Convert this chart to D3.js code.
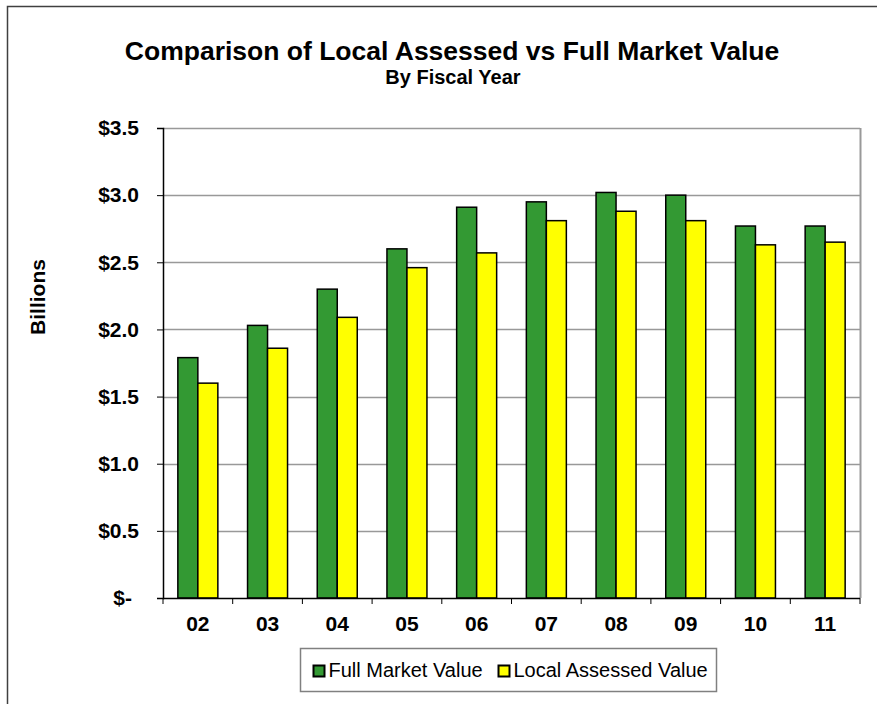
<!DOCTYPE html>
<html>
<head>
<meta charset="utf-8">
<script src="https://cdn.jsdelivr.net/npm/d3@7"></script>
<style>
  body { margin: 0; background: #fff; }
  text { font-family: "Liberation Sans", Arial, sans-serif; }
</style>
</head>
<body>
<svg id="viz" width="877" height="704"></svg>
<script>
const years = ["02", "03", "04", "05", "06", "07", "08", "09", "10", "11"];
const fullMarket = [1.79, 2.03, 2.30, 2.60, 2.91, 2.95, 3.02, 3.00, 2.77, 2.77];
const localAssessed = [1.60, 1.86, 2.09, 2.46, 2.57, 2.81, 2.88, 2.81, 2.63, 2.65];
const yTicks = [0, 0.5, 1.0, 1.5, 2.0, 2.5, 3.0, 3.5];
const seriesNames = ["Full Market Value", "Local Assessed Value"];
const colors = ["#339933", "#ffff00"];

const margin = { top: 128, right: 17, bottom: 106, left: 163 };
const svg = d3.select("#viz");
const width = +svg.attr("width");
const height = +svg.attr("height");

// outer chart frame (only top and left edges show in the picture)
svg.append("path")
    .attr("d", `M7.5,${height} V6.5 H${width}`)
    .attr("fill", "none")
    .attr("stroke", "#404040")
    .attr("stroke-width", 1.5);

const x = d3.scaleBand()
    .domain(years)
    .range([margin.left, width - margin.right]);

const y = d3.scaleLinear()
    .domain([0, 3.5])
    .range([height - margin.bottom, margin.top]);

// gridlines
svg.append("g")
    .selectAll("line")
    .data(yTicks.slice(1))
    .join("line")
    .attr("x1", margin.left)
    .attr("x2", width - margin.right)
    .attr("y1", d => Math.round(y(d)) + 0.5)
    .attr("y2", d => Math.round(y(d)) + 0.5)
    .attr("stroke", "#999")
    .attr("stroke-width", 1.5);

// plot area right edge
svg.append("line")
    .attr("x1", width - margin.right + 0.5)
    .attr("x2", width - margin.right + 0.5)
    .attr("y1", margin.top)
    .attr("y2", height - margin.bottom)
    .attr("stroke", "#999")
    .attr("stroke-width", 2);

// bars
const barW = 20;
const groups = svg.append("g")
    .selectAll("g")
    .data(years)
    .join("g")
    .attr("transform", d => `translate(${x(d) + x.bandwidth() / 2 - barW},0)`);

[fullMarket, localAssessed].forEach((series, s) => {
    groups.append("rect")
        .attr("x", s * barW)
        .attr("y", (d, i) => y(series[i]))
        .attr("width", barW)
        .attr("height", (d, i) => y(0) - y(series[i]))
        .attr("fill", colors[s])
        .attr("stroke", "#000")
        .attr("stroke-width", 1.5);
});

// axes
const yAxis = svg.append("g")
    .attr("transform", `translate(${margin.left},0)`)
    .call(d3.axisLeft(y)
        .tickValues(yTicks)
        .tickSize(6)
        .tickPadding(18)
        .tickFormat(d => d === 0 ? "$-" : "$" + d3.format(".1f")(d)));

const xAxis = svg.append("g")
    .attr("transform", `translate(0,${height - margin.bottom})`)
    .call(d3.axisBottom(x).tickSize(0).tickPadding(18));

// x ticks between categories
svg.append("g")
    .selectAll("line")
    .data(d3.range(years.length + 1))
    .join("line")
    .attr("x1", i => margin.left + i * x.step())
    .attr("x2", i => margin.left + i * x.step())
    .attr("y1", height - margin.bottom)
    .attr("y2", height - margin.bottom + 6)
    .attr("stroke", "#000");

[yAxis, xAxis].forEach(ax => {
    ax.selectAll("text")
        .attr("font-size", 21)
        .attr("font-weight", "bold")
        .attr("fill", "#000")
        .style("font-family", "Liberation Sans, Arial, sans-serif");
    ax.select(".domain").attr("stroke", "#000").attr("stroke-width", 1.5);
});
// accounting-style zero label sits a little left of the others
yAxis.selectAll(".tick text").filter(d => d === 0).attr("dx", -7);
xAxis.select(".domain").attr("d", `M${margin.left},0.5H${width - margin.right}`);

// titles
svg.append("text")
    .attr("x", 452)
    .attr("y", 60)
    .attr("text-anchor", "middle")
    .attr("font-size", 26.5)
    .attr("font-weight", "bold")
    .text("Comparison of Local Assessed vs Full Market Value");

svg.append("text")
    .attr("x", 453)
    .attr("y", 84)
    .attr("text-anchor", "middle")
    .attr("font-size", 20)
    .attr("font-weight", "bold")
    .text("By Fiscal Year");

svg.append("text")
    .attr("transform", "translate(45,297) rotate(-90)")
    .attr("text-anchor", "middle")
    .attr("font-size", 21)
    .attr("font-weight", "bold")
    .text("Billions");

// legend
const legend = svg.append("g").attr("transform", "translate(300.5,648.5)");
legend.append("rect")
    .attr("width", 416)
    .attr("height", 43)
    .attr("fill", "#fff")
    .attr("stroke", "#808080")
    .attr("stroke-width", 1.5);

const legendX = [13, 198];
seriesNames.forEach((name, i) => {
    const item = legend.append("g").attr("transform", `translate(${legendX[i]},17)`);
    item.append("rect")
        .attr("width", 11)
        .attr("height", 11)
        .attr("fill", colors[i])
        .attr("stroke", "#000")
        .attr("stroke-width", 2);
    item.append("text")
        .attr("x", 15)
        .attr("y", 11.5)
        .attr("font-size", 20)
        .text(name);
});
</script>
</body>
</html>
